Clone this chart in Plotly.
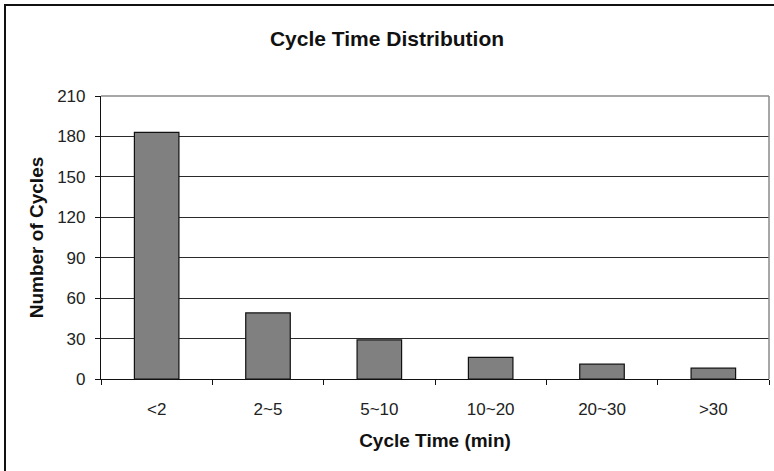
import plotly.graph_objects as go

categories = ["<2", "2~5", "5~10", "10~20", "20~30", ">30"]
cycles = [183, 49, 29, 16, 11, 8]
y_ticks = [0, 30, 60, 90, 120, 150, 180, 210]

FONT = "Liberation Sans, Arial, sans-serif"

fig = go.Figure(
    go.Bar(
        x=categories,
        y=cycles,
        marker=dict(color="#808080", line=dict(color="#111111", width=1.2)),
        width=0.4,
    )
)

W, H = 774, 471
L, R, T, B = 101, 5, 96, 92
pw, ph = W - L - R, H - T - B

fig.update_layout(
    width=W,
    height=H,
    margin=dict(l=L, r=R, t=T, b=B),
    paper_bgcolor="white",
    plot_bgcolor="white",
    showlegend=False,
    font=dict(family=FONT, size=17, color="#222222"),
    title=dict(
        text="<b>Cycle Time Distribution</b>",
        x=0.5,
        xanchor="center",
        y=1 - 39 / H,
        yanchor="middle",
        font=dict(family=FONT, size=21, color="#111111"),
    ),
    xaxis=dict(
        type="category",
        range=[-0.5, 5.5],
        showline=True,
        linecolor="#111111",
        linewidth=1.2,
        ticks="outside",
        tickson="boundaries",
        ticklen=5,
        tickcolor="#111111",
        showgrid=False,
        ticklabelstandoff=14,
        tickfont=dict(family=FONT, size=17, color="#222222"),
        title=dict(
            text="<b>Cycle Time (min)</b>",
            font=dict(family=FONT, size=19, color="#111111"),
            standoff=16,
        ),
        automargin=False,
    ),
    yaxis=dict(
        range=[0, 210],
        tickvals=y_ticks,
        showline=True,
        linecolor="#111111",
        linewidth=1.2,
        ticks="outside",
        ticklen=5,
        tickcolor="#111111",
        showgrid=True,
        gridcolor="#2a2a2a",
        gridwidth=1,
        zeroline=False,
        ticklabelstandoff=6,
        tickfont=dict(family=FONT, size=17, color="#222222"),
        title=dict(
            text="<b>Number of Cycles</b>",
            font=dict(family=FONT, size=19, color="#111111"),
            standoff=8,
        ),
        automargin=False,
    ),
)

# grey top and right edges of the plot area
fig.add_shape(type="line", xref="paper", yref="paper", x0=0, x1=1, y0=1, y1=1,
              line=dict(color="#8a8a8a", width=1.5))
fig.add_shape(type="line", xref="paper", yref="paper", x0=1, x1=1, y0=0, y1=1,
              line=dict(color="#8a8a8a", width=1.5))

# outer chart border (cropped on the right and bottom in the reference)
fig.add_shape(
    type="rect",
    xref="paper",
    yref="paper",
    x0=(5 - L) / pw,
    x1=(W + 20 - L) / pw,
    y0=-(B + 20) / ph,
    y1=(H - B - 5) / ph,
    line=dict(color="#111111", width=2),
    fillcolor="rgba(0,0,0,0)",
    layer="below",
)

fig.write_html(
    "out.html",
    config={"displayModeBar": False},
    post_script="document.body.style.margin='0';document.body.style.padding='0';",
)
